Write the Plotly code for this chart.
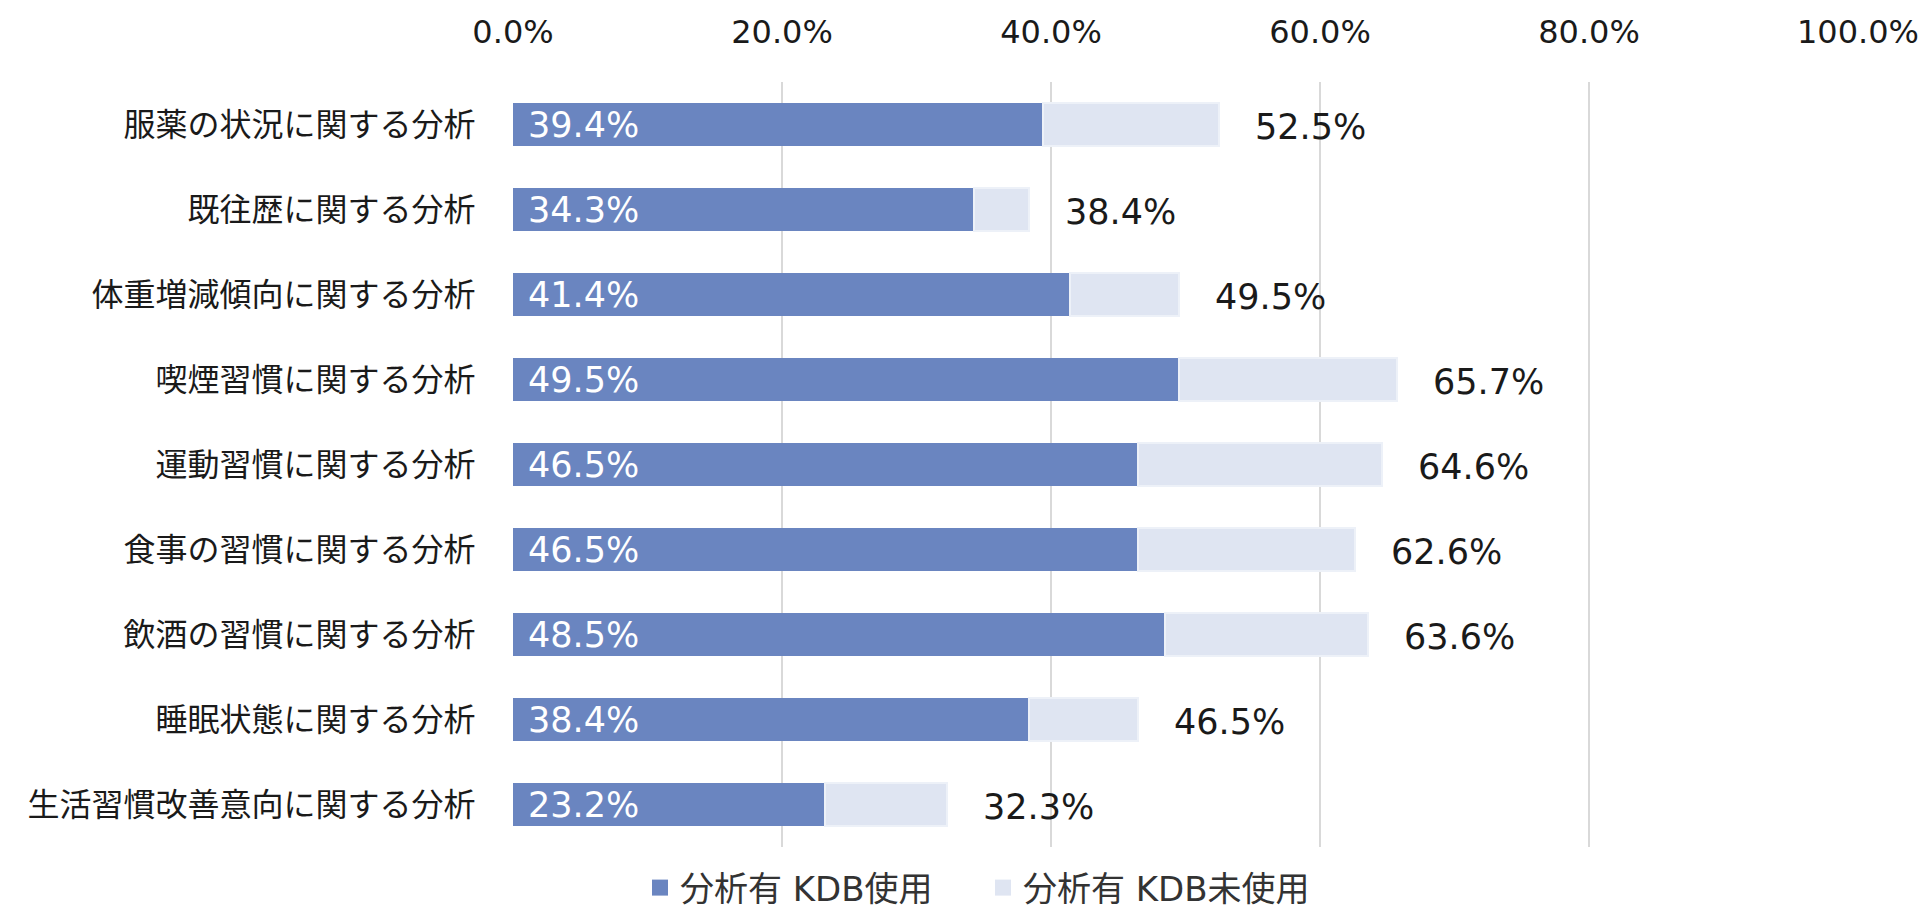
import plotly.graph_objects as go

categories = ["服薬の状況に関する分析", "既往歴に関する分析", "体重増減傾向に関する分析",
              "喫煙習慣に関する分析", "運動習慣に関する分析", "食事の習慣に関する分析",
              "飲酒の習慣に関する分析", "睡眠状態に関する分析", "生活習慣改善意向に関する分析"]
kdb_used = [39.4, 34.3, 41.4, 49.5, 46.5, 46.5, 48.5, 38.4, 23.2]
totals = [52.5, 38.4, 49.5, 65.7, 64.6, 62.6, 63.6, 46.5, 32.3]
kdb_unused = [round(t - u, 1) for t, u in zip(totals, kdb_used)]
series_names = ["分析有 KDB使用", "分析有 KDB未使用"]
tick_vals = [0, 20, 40, 60, 80, 100]

FONT = "DejaVu Sans, Noto Sans CJK JP"
DARK = "#6a85c0"
LIGHT = "#dfe5f2"
TXT = "#1a1a1a"

# page body has an 8px margin -> figure is 16px smaller than the window
W, H = 1915, 907

fig = go.Figure()
fig.add_trace(go.Bar(
    y=categories, x=kdb_used, orientation="h", name=series_names[0],
    marker=dict(color=DARK, line=dict(width=0)), showlegend=False,
))
fig.add_trace(go.Bar(
    y=categories, x=kdb_unused, orientation="h", name=series_names[1],
    marker=dict(color=LIGHT, line=dict(color="#edf1f8", width=2)), showlegend=False,
))
# legend swatches (square markers like the original)
for name, col in zip(series_names, [DARK, LIGHT]):
    fig.add_trace(go.Scatter(x=[None], y=[None], mode="markers", name=name,
                             marker=dict(symbol="square", size=16, color=col)))

for c, u in zip(categories, kdb_used):
    fig.add_annotation(x=0, y=c, text=f"{u:.1f}%", showarrow=False,
                       xanchor="left", xshift=13,
                       font=dict(size=35, family=FONT, color="white"))

for c, t in zip(categories, totals):
    fig.add_annotation(x=t, y=c, text=f"{t:.1f}%", showarrow=False,
                       xanchor="left", xshift=34, yshift=-2,
                       font=dict(size=35, family=FONT, color=TXT))

fig.update_layout(
    barmode="stack", bargap=0.5,
    width=W, height=H,
    margin=dict(l=505, r=65, t=74, b=68, autoexpand=False),
    plot_bgcolor="white", paper_bgcolor="white",
    font=dict(family=FONT, size=32, color=TXT),
    legend=dict(orientation="h", xref="container", yref="container",
                x=(640 - 8) / W, xanchor="left", y=(H - 880) / H, yanchor="middle",
                font=dict(size=34, family=FONT, color="#333333"),
                itemwidth=30, entrywidth=298, traceorder="normal"),
    xaxis=dict(side="top", range=[0, 100], tickvals=tick_vals,
               ticktext=[f"{v:.1f}%" for v in tick_vals],
               showgrid=True, gridcolor="#d9d9d9", gridwidth=1.5,
               zeroline=False, showline=False, automargin=False,
               ticks="outside", ticklen=25, tickcolor="rgba(0,0,0,0)",
               tickfont=dict(size=32, family=FONT, color=TXT)),
    yaxis=dict(categoryorder="array", categoryarray=categories, autorange="reversed",
               showgrid=False, showline=False, zeroline=False, automargin=False,
               ticks="outside", ticklen=30, tickcolor="rgba(0,0,0,0)",
               tickfont=dict(size=32, family=FONT, color=TXT)),
)

fig.write_html("out.html")
